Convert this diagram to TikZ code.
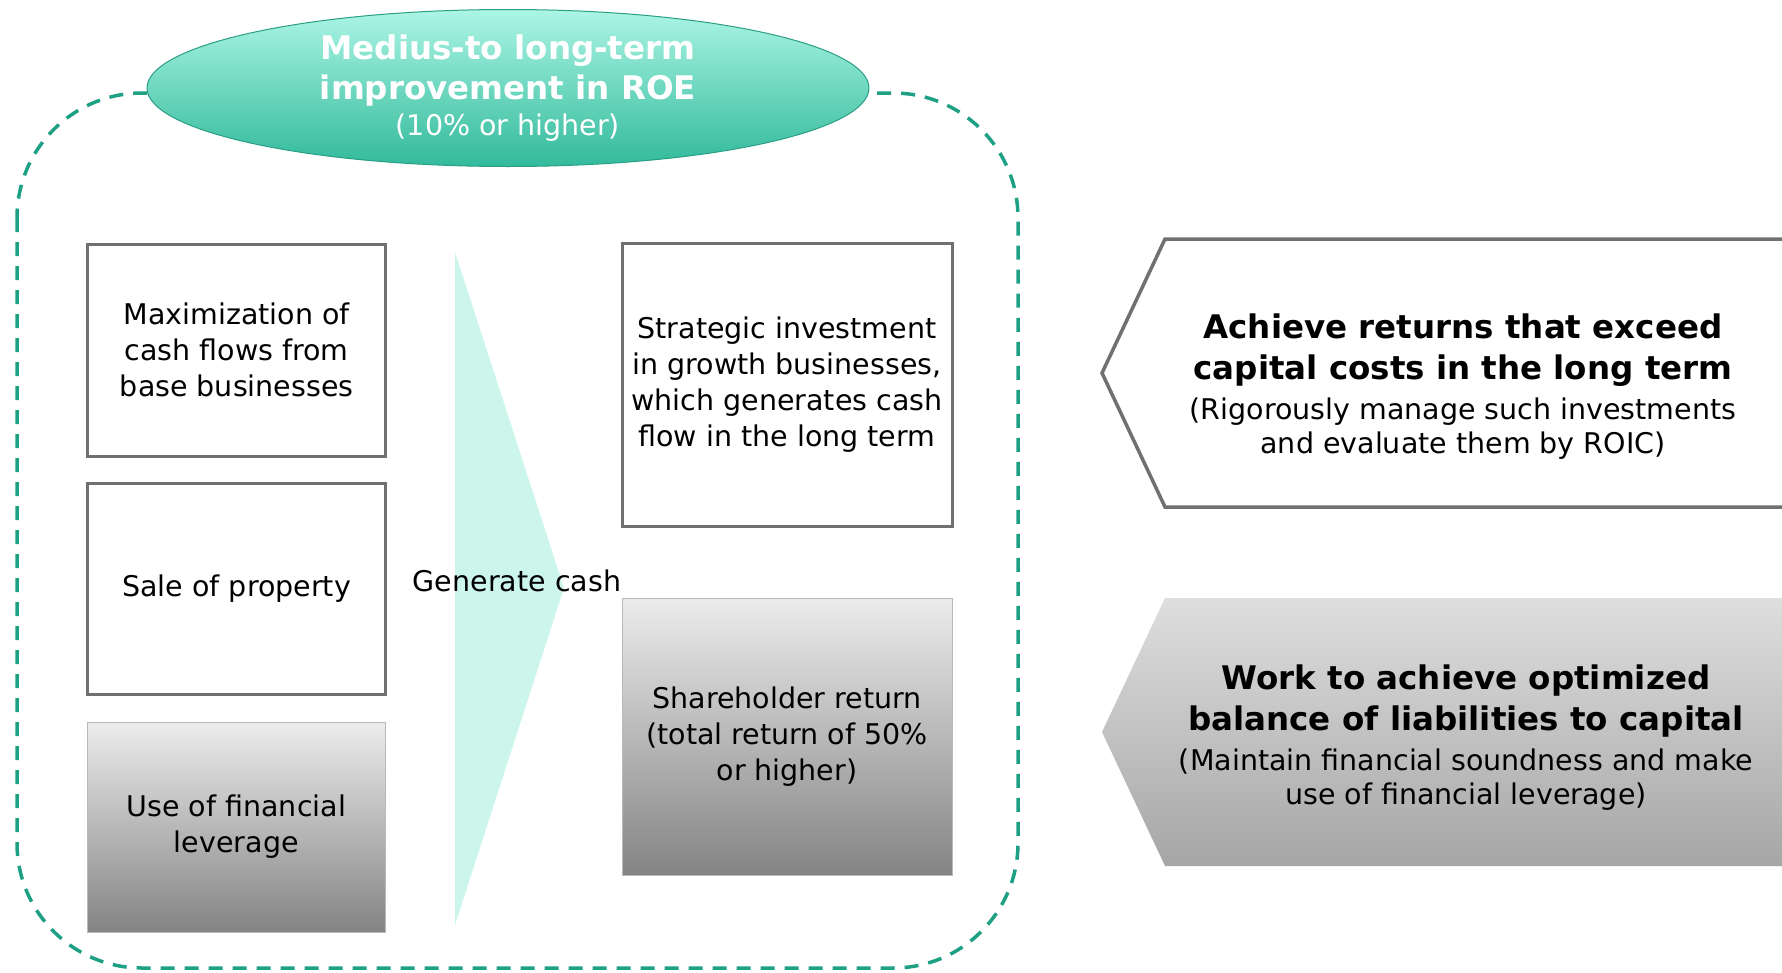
\documentclass[tikz,border=0pt]{standalone}
\usepackage{fontspec}
\setmainfont{DejaVu Sans}
\usetikzlibrary{shapes.geometric}
\definecolor{dashteal}{RGB}{30,160,132}
\definecolor{trimint}{RGB}{204,245,236}
\definecolor{roetop}{RGB}{172,245,229}
\definecolor{roebot}{RGB}{50,186,155}
\definecolor{boxgray}{RGB}{112,112,112}
\definecolor{greytop}{RGB}{236,236,236}
\definecolor{greybot}{RGB}{132,132,132}
\definecolor{arrtop}{RGB}{222,222,222}
\definecolor{arrbot}{RGB}{166,166,166}
\newcommand{\txt}{\fontsize{28.5}{36}\selectfont\mdseries}
\newcommand{\hd}{\fontsize{32.5}{41}\selectfont\bfseries}
\tikzset{
  cashframe/.style={draw=dashteal,line width=3.5pt,dash pattern=on 14pt off 10pt,rounded corners=125pt},
  plainbox/.style={draw=boxgray,line width=3pt,fill=white,align=center,inner sep=0,font=\txt},
  greybox/.style={draw=gray!55,line width=1pt,top color=greytop,bottom color=greybot,
    align=center,inner sep=0,font=\txt},
  lbl/.style={align=center,inner sep=0,font=\txt}
}
\begin{document}
\begin{tikzpicture}[x=1pt,y=-1pt]
  \useasboundingbox (0,0) rectangle (1782,972);
  % dashed frame round the left part
  \draw[cashframe] (17,93) rectangle (1018,968);
  % light triangle behind the label
  \fill[trimint] (455,252) -- (564,588) -- (455,925) -- cycle;
  % left column
  \node[plainbox,minimum width=298pt,minimum height=212pt] (base) at (236.7,350)
    {Maximization of\\cash flows from\\base businesses};
  \node[plainbox,minimum width=298pt,minimum height=211pt] (sale) at (236.7,588.5)
    {Sale of property};
  \node[greybox,minimum width=298pt,minimum height=210pt] (lev) at (236.3,827)
    {Use of financial\\leverage};
  % right column
  \node[plainbox,minimum width=330pt,minimum height=283pt] (inv) at (787,384.5)
    {Strategic investment\\in growth businesses,\\which generates cash\\flow in the long term};
  \node[greybox,minimum width=330pt,minimum height=277pt] (ret) at (787,736.5)
    {Shareholder return\\(total return of 50\%\\or higher)};
  \node[lbl] (gen) at (517,581) {Generate cash};
  % goal
  \node[ellipse,draw=roebot!85!black,line width=1pt,top color=roetop,bottom color=roebot,
    minimum width=722pt,minimum height=157pt,inner sep=0,align=center,text=white,font=\txt] (roe) at (508,88)
    {\hd Medius-to long-term\\[4pt]\hd improvement in ROE\\\txt (10\% or higher)};
  % policy arrows
  \draw[boxgray,line width=3.5pt,fill=white] (1790,239) -- (1165,239) -- (1102,373) -- (1165,507) -- (1790,507);
  \shade[top color=arrtop,bottom color=arrbot] (1790,598) -- (1165,598) -- (1102,732) -- (1165,866) -- (1790,866) -- cycle;
  \node[lbl] (hi) at (1463,387)
    {\hd Achieve returns that exceed\\[5pt]\hd capital costs in the long term\\[4pt]\txt (Rigorously manage such investments\\[-2pt]and evaluate them by ROIC)};
  \node[lbl] (lo) at (1466,738)
    {\hd Work to achieve optimized\\[5pt]\hd balance of liabilities to capital\\[4pt]\txt (Maintain financial soundness and make\\[-2pt]use of financial leverage)};
\end{tikzpicture}
\end{document}
